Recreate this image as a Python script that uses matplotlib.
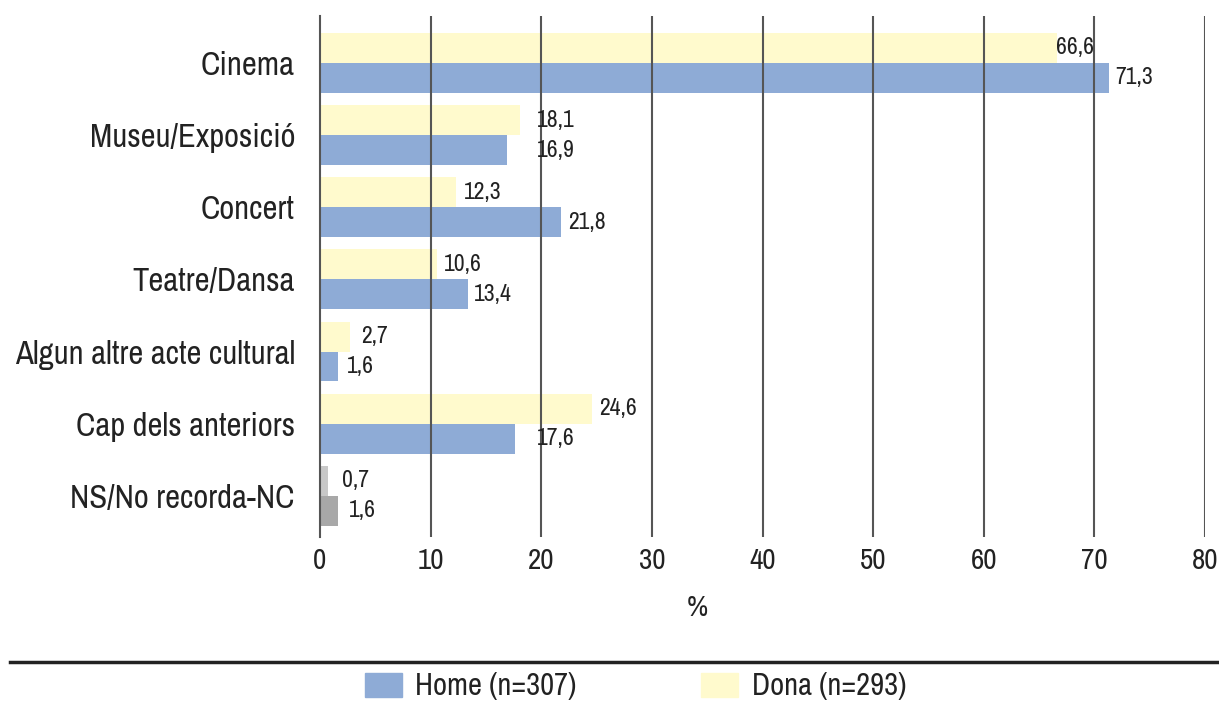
import matplotlib
matplotlib.use("Agg")
import matplotlib.pyplot as plt
from matplotlib import font_manager as fm
from matplotlib.patches import Rectangle
from matplotlib.lines import Line2D
import numpy as np

categories = ["Cinema", "Museu/Exposició", "Concert", "Teatre/Dansa",
              "Algun altre acte cultural", "Cap dels anteriors", "NS/No recorda-NC"]
home = [71.3, 16.9, 21.8, 13.4, 1.6, 17.6, 1.6]
dona = [66.6, 18.1, 12.3, 10.6, 2.7, 24.6, 0.7]
xticks = [0, 10, 20, 30, 40, 50, 60, 70, 80]
legend_labels = ["Home (n=307)", "Dona (n=293)"]

# pick a condensed font if one is available
entries = fm.fontManager.ttflist
names = {f.name for f in entries}
family, stretch, scale = "DejaVu Sans", "normal", 0.82
narrow = [f for f in entries if "narrow" in f.name.lower() or "condensed" in f.name.lower()]
dv_cond = [f for f in entries if f.name == "DejaVu Sans" and "condensed" in f.fname.lower()
           and "bold" not in f.fname.lower() and "oblique" not in f.fname.lower()]
if "Liberation Sans Narrow" in names:
    family, stretch, scale = "Liberation Sans Narrow", "normal", 1.0
elif narrow:
    family, stretch, scale = narrow[0].name, "normal", 1.0
elif dv_cond:
    family, stretch, scale = "DejaVu Sans", "condensed", 0.9
elif "Liberation Sans" in names:
    family, stretch, scale = "Liberation Sans", "normal", 0.85

plt.rcParams['font.family'] = [family, 'DejaVu Sans']
plt.rcParams['font.stretch'] = stretch

TXT = "#222222"
BLUE = "#8eabd6"
YELLOW = "#fffacd"
GRAY_D = "#c8c8c8"
GRAY_H = "#a8a8a8"
GRID = "#555555"

FS_CAT = 23.5 * scale
FS_TICK = 21 * scale
FS_VAL = 17 * scale
FS_LEG = 22 * scale

# label nudges (pixels from bar end), to mimic the reference placement
dona_nudge = [-1, 17, 8, 7, 11, 7, 14]
home_nudge = [6, 30, 7, 6, 9, 22, 11]

fig = plt.figure(figsize=(12.19, 7.02), dpi=100)
ax = fig.add_axes([320/1219, 1-537/702, (1205-320)/1219, (537-16)/702])

y = np.arange(len(categories))
h = 0.415
n = len(categories)
dcol = [YELLOW]*(n-1) + [GRAY_D]
hcol = [BLUE]*(n-1) + [GRAY_H]
ax.barh(y - h/2, dona, height=h, color=dcol, zorder=1)
ax.barh(y + h/2, home, height=h, color=hcol, zorder=1)

def fmt(v):
    return f"{v:.1f}".replace(".", ",")

for i in range(n):
    ax.annotate(fmt(dona[i]), (dona[i], y[i] - h/2), xytext=(dona_nudge[i], 0),
                textcoords="offset pixels", va="center", ha="left",
                fontsize=FS_VAL, color=TXT, zorder=3)
    ax.annotate(fmt(home[i]), (home[i], y[i] + h/2), xytext=(home_nudge[i], 0),
                textcoords="offset pixels", va="center", ha="left",
                fontsize=FS_VAL, color=TXT, zorder=3)

ax.set_xlim(0, 80)
ax.set_ylim(6.57, -0.65)
ax.set_xticks(xticks)
ax.set_xticklabels([str(t) for t in xticks], fontsize=FS_TICK, color=TXT)
ax.set_yticks(y)
ax.set_yticklabels(categories, fontsize=FS_CAT, color=TXT)
ax.tick_params(axis="x", length=0, pad=7)
ax.tick_params(axis="y", length=0, pad=18)
for t in xticks[1:]:
    ax.axvline(t, color=GRID, lw=1.5, zorder=2)
for s in ["top", "right", "bottom"]:
    ax.spines[s].set_visible(False)
ax.spines["left"].set_color(GRID)
ax.spines["left"].set_linewidth(1.5)
ax.spines["left"].set_zorder(2)

fig.text(697/1219, 1-607/702, "%", ha="center", va="center", fontsize=FS_TICK, color=TXT)

fig.add_artist(Line2D([10/1219, 1.0], [1-662/702, 1-662/702], color="#222222", lw=2.5))

fig.add_artist(Rectangle((365/1219, 1-697/702), 37/1219, 24/702, color=BLUE, transform=fig.transFigure))
fig.text(415/1219, 1-686/702, legend_labels[0], ha="left", va="center", fontsize=FS_LEG, color=TXT)
fig.add_artist(Rectangle((701/1219, 1-697/702), 37/1219, 24/702, color=YELLOW, transform=fig.transFigure))
fig.text(752/1219, 1-686/702, legend_labels[1], ha="left", va="center", fontsize=FS_LEG, color=TXT)

fig.savefig("out.png", dpi=100)
